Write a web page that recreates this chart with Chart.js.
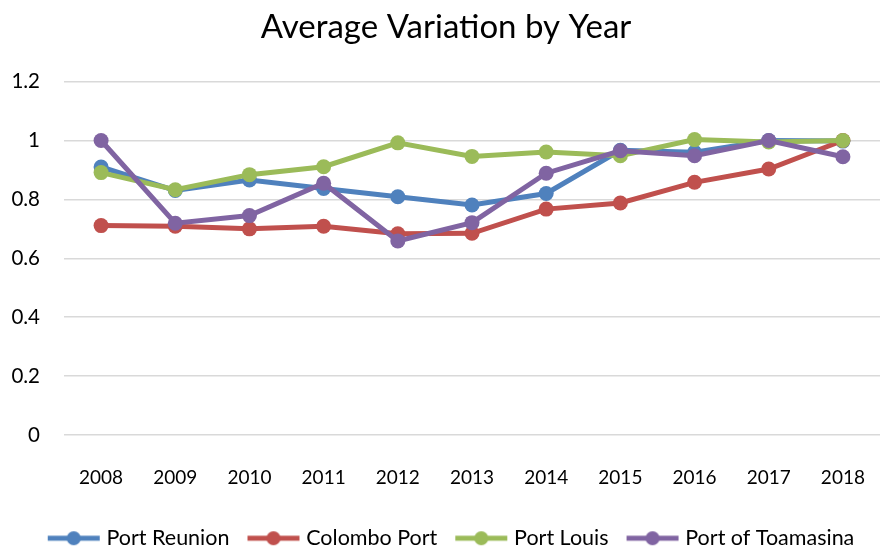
<!DOCTYPE html>
<html>
<head>
<meta charset="utf-8">
<title>Average Variation by Year</title>
<script src="https://cdn.jsdelivr.net/npm/chart.js@4.4.0/dist/chart.umd.min.js"></script>
<style>
  html, body { margin: 0; padding: 0; background: #fff; }
  #wrap { width: 880px; height: 549px; }
</style>
</head>
<body>
<div id="wrap"><canvas id="graficoVariacao" width="880" height="549"></canvas></div>
<script>
var anos = ['2008', '2009', '2010', '2011', '2012', '2013', '2014', '2015', '2016', '2017', '2018'];

var portReunion = [0.91, 0.83, 0.866, 0.837, 0.809, 0.781, 0.82, 0.967, 0.96, 1.0, 0.998];
var colomboPort = [0.711, 0.709, 0.70, 0.709, 0.683, 0.685, 0.767, 0.788, 0.858, 0.903, 1.0];
var portLouis = [0.891, 0.833, 0.884, 0.911, 0.992, 0.946, 0.961, 0.948, 1.003, 0.995, 1.0];
var portToamasina = [1.0, 0.719, 0.745, 0.855, 0.659, 0.721, 0.889, 0.965, 0.948, 1.0, 0.945];

var nomes = ['Port Reunion', 'Colombo Port', 'Port Louis', 'Port of Toamasina'];
var cores = ['#4F81BD', '#C0504D', '#9BBB59', '#8064A2'];
var yTicks = ['0', '0.2', '0.4', '0.6', '0.8', '1', '1.2'];

var fonte = 'Lato, "Open Sans", sans-serif';

// marcador da legenda: linha com bolinha no meio
function marcador(cor) {
  var c = document.createElement('canvas');
  c.width = 54;
  c.height = 16;
  var g = c.getContext('2d');
  g.strokeStyle = cor;
  g.lineWidth = 5;
  g.beginPath();
  g.moveTo(1, 8);
  g.lineTo(53, 8);
  g.stroke();
  g.fillStyle = cor;
  g.beginPath();
  g.arc(27, 8, 7, 0, Math.PI * 2);
  g.fill();
  return c;
}

// empurra titulo e legenda um pouco pra direita, como no original
var deslocaCaixas = {
  id: 'deslocaCaixas',
  afterLayout: function(chart) {
    chart.titleBlock.left += 6;
    chart.titleBlock.right += 6;
    chart.legend.left += 13;
    chart.legend.right += 13;
  }
};

var series = [portReunion, colomboPort, portLouis, portToamasina];
var datasets = series.map(function(valores, i) {
  return {
    label: nomes[i],
    data: valores,
    borderColor: cores[i],
    backgroundColor: cores[i],
    pointBackgroundColor: cores[i],
    pointBorderColor: cores[i],
    borderWidth: 5,
    pointRadius: 7.5,
    pointHoverRadius: 7.5,
    pointBorderWidth: 0,
    pointStyle: 'circle',
    tension: 0,
    order: series.length - i
  };
});

var ctx = document.getElementById('graficoVariacao').getContext('2d');
var grafico = new Chart(ctx, {
  type: 'line',
  data: {
    labels: anos,
    datasets: datasets
  },
  plugins: [deslocaCaixas],
  options: {
    responsive: false,
    animation: false,
    layout: { autoPadding: false, padding: { left: 0, right: 0, top: 4, bottom: -10 } },
    plugins: {
      title: {
        display: true,
        text: 'Average Variation by Year',
        color: '#000',
        font: { family: fonte, size: 33, weight: 'normal' },
        padding: { top: 4, bottom: 34 }
      },
      legend: {
        position: 'bottom',
        labels: {
          color: '#000',
          font: { family: fonte, size: 21.5 },
          usePointStyle: true,
          pointStyleWidth: 44,
          padding: 22,
          generateLabels: function(chart) {
            return chart.data.datasets.map(function(ds, i) {
              return {
                text: ds.label,
                pointStyle: marcador(cores[i]),
                fillStyle: cores[i],
                strokeStyle: cores[i],
                lineWidth: 0,
                datasetIndex: i,
                fontColor: '#000'
              };
            });
          }
        }
      },
      tooltip: { enabled: false }
    },
    scales: {
      x: {
        offset: true,
        grid: { display: false, drawTicks: true, tickLength: 24 },
        border: { display: false },
        ticks: {
          color: '#000',
          font: { family: fonte, size: 19 },
          padding: 7,
          maxRotation: 0
        },
        afterFit: function(scale) {
          scale.height = 70.5;
          scale.paddingLeft = 0;
          scale.paddingRight = 0;
        }
      },
      y: {
        min: 0,
        max: 1.2,
        ticks: {
          stepSize: 0.2,
          color: '#000',
          font: { family: fonte, size: 20.5 },
          padding: 24,
          callback: function(v, idx) { return yTicks[idx]; }
        },
        grid: { color: '#d9d9d9', lineWidth: 1.5, drawTicks: false },
        border: { display: false },
        afterFit: function(scale) { scale.width = 64; }
      }
    }
  }
});
</script>
</body>
</html>
